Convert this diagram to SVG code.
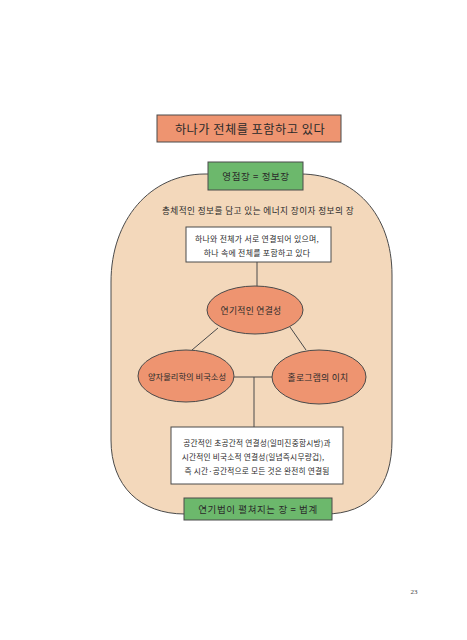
<svg xmlns="http://www.w3.org/2000/svg" width="467" height="640" viewBox="0 0 467 640">
<style>
.k{font-family:"Noto Sans CJK KR","Noto Sans",sans-serif;fill:#2a2a2a;text-anchor:middle;dominant-baseline:central}
.ln{stroke:#4a4a4a;stroke-width:1;fill:none}
.box{stroke:#4a4a4a;stroke-width:1}
.or{fill:#ee9470}
.gr{fill:#6cb86c}
.wh{fill:#ffffff}
</style>
<rect width="467" height="640" fill="#ffffff"/>
<g id="field">
<path d="M205,174 L300,174 C355,174 392,215 392,275 L392,440 C392,486 370,514 325,514 L185,514 C140,514 111,486 111,440 L111,282 C111,220 150,174 205,174 Z" fill="#f3d8bb" stroke="#4a4a4a" stroke-width="1"/>
<text class="k" x="258" y="210" font-size="8.6" letter-spacing="0.45">총체적인 정보를 담고 있는 에너지 장이자 정보의 장</text>
</g>
<g id="connectors">
<line class="ln" x1="257" y1="262" x2="257" y2="287"/>
<line class="ln" x1="218" y1="328" x2="192" y2="350"/>
<line class="ln" x1="290" y1="327" x2="306" y2="350"/>
<line class="ln" x1="232" y1="377" x2="273" y2="377"/>
<line class="ln" x1="254" y1="377" x2="254" y2="427"/>
</g>
<g id="title">
<rect class="box or" x="157" y="115" width="184" height="27"/>
<text class="k" x="250" y="128.5" font-size="12.2" letter-spacing="0.5">하나가 전체를 포함하고 있다</text>
</g>
<g id="top-green">
<rect class="box gr" x="208" y="162" width="95" height="28"/>
<text class="k" x="256" y="176" font-size="9.5" letter-spacing="0.6">영점장 = 정보장</text>
</g>
<g id="box1">
<rect class="box wh" x="186" y="227" width="145" height="35"/>
<text class="k" x="257" y="238" font-size="7.9" letter-spacing="0.3">하나와 전체가 서로 연결되어 있으며,</text>
<text class="k" x="257" y="252" font-size="7.9" letter-spacing="0.3">하나 속에 전체를 포함하고 있다</text>
</g>
<g id="center-ellipse">
<ellipse class="box or" cx="255" cy="310" rx="48" ry="24"/>
<text class="k" x="251" y="310" font-size="8.8" letter-spacing="0.3">연기적인 연결성</text>
</g>
<g id="left-ellipse">
<ellipse class="box or" cx="186" cy="376" rx="48" ry="26"/>
<text class="k" x="187" y="376" font-size="8.3">양자물리학의 비국소성</text>
</g>
<g id="right-ellipse">
<ellipse class="box or" cx="319" cy="377" rx="47" ry="27"/>
<text class="k" x="318" y="377" font-size="8.8" letter-spacing="0.3">홀로그램의 이치</text>
</g>
<g id="box2">
<rect class="box wh" x="171" y="427" width="172" height="57"/>
<text class="k" x="257" y="442" font-size="7.7" letter-spacing="0.2">공간적인 초공간적 연결성(일미진중함시방)과</text>
<text class="k" x="253" y="456" font-size="7.7" letter-spacing="0.2">시간적인 비국소적 연결성(일념즉시무량겁),</text>
<text class="k" x="257" y="470" font-size="7.7" letter-spacing="0.2">즉 시간·공간적으로 모든 것은 완전히 연결됨</text>
</g>
<g id="bottom-green">
<rect class="box gr" x="184" y="498" width="148" height="22"/>
<text class="k" x="258" y="509" font-size="9.5" letter-spacing="0.6">연기법이 펼쳐지는 장 = 법계</text>
</g>
<text x="414" y="594" font-family="Liberation Serif,serif" font-size="7" fill="#444" text-anchor="middle">23</text>
</svg>
